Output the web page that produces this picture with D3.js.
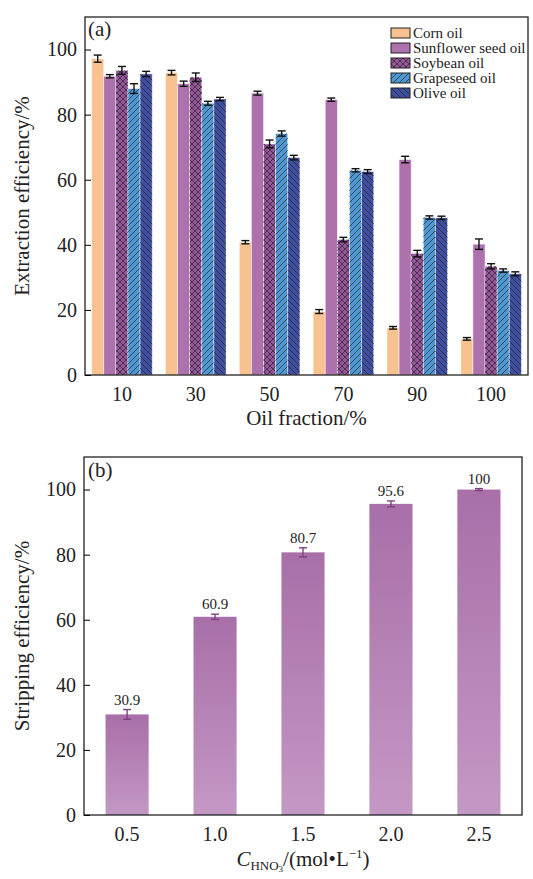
<!DOCTYPE html>
<html>
<head>
<meta charset="utf-8">
<script src="https://cdn.jsdelivr.net/npm/d3@7"></script>
<style>
  body { margin: 0; background: #fff; }
  text { font-family: "Liberation Serif", "Times New Roman", serif; }
</style>
</head>
<body>
<div id="chart"></div>
<script>
// panel (a) data
var fractions = ["10", "30", "50", "70", "90", "100"];
var oils = ["Corn oil", "Sunflower seed oil", "Soybean oil", "Grapeseed oil", "Olive oil"];
var cornVals = [97.2, 92.9, 40.8, 19.5, 14.5, 11.1];
var cornErr = [1.1, 0.7, 0.5, 0.6, 0.4, 0.4];
var sunflowerVals = [91.8, 89.5, 86.6, 84.6, 66.2, 40.2];
var sunflowerErr = [0.5, 0.8, 0.6, 0.5, 1.0, 1.6];
var soybeanVals = [93.6, 91.5, 71.0, 41.6, 37.3, 33.4];
var soybeanErr = [1.2, 1.3, 1.2, 0.7, 1.0, 0.8];
var grapeVals = [88.0, 83.5, 74.2, 62.9, 48.4, 32.1];
var grapeErr = [1.5, 0.6, 0.8, 0.5, 0.5, 0.5];
var oliveVals = [92.5, 84.8, 66.8, 62.5, 48.3, 31.1];
var oliveErr = [0.8, 0.5, 0.7, 0.6, 0.5, 0.6];

// panel (b) data
var hno3 = ["0.5", "1.0", "1.5", "2.0", "2.5"];
var stripVals = [30.9, 60.9, 80.7, 95.6, 100];
var stripErr = [1.5, 0.8, 1.4, 0.9, 0.3];

var yTicks = [0, 20, 40, 60, 80, 100];

var oilSeries = [
  { name: oils[0], vals: cornVals, err: cornErr, fill: "#f7c28f", pat: null },
  { name: oils[1], vals: sunflowerVals, err: sunflowerErr, fill: "#ad71ad", pat: null },
  { name: oils[2], vals: soybeanVals, err: soybeanErr, fill: "#95559a", pat: "patX" },
  { name: oils[3], vals: grapeVals, err: grapeErr, fill: "#4f97d0", pat: "patSlash" },
  { name: oils[4], vals: oliveVals, err: oliveErr, fill: "#3f4e9e", pat: "patBack" }
];

const W = 533, H = 879;
const svg = d3.select("#chart").append("svg")
  .attr("width", W)
  .attr("height", H);

// hatch patterns
const defs = svg.append("defs");
function hatch(id, paths) {
  var p = defs.append("pattern")
    .attr("id", id)
    .attr("patternUnits", "userSpaceOnUse")
    .attr("width", 6)
    .attr("height", 6);
  paths.forEach(function (d) {
    p.append("path").attr("d", d)
      .attr("stroke", "#222")
      .attr("stroke-opacity", 0.75)
      .attr("stroke-width", 0.9)
      .attr("fill", "none");
  });
}
hatch("patSlash", ["M0,6 L6,0", "M-1,1 L1,-1", "M5,7 L7,5"]);
hatch("patBack", ["M0,0 L6,6", "M-1,5 L1,7", "M5,-1 L7,1"]);
hatch("patX", ["M0,6 L6,0", "M-1,1 L1,-1", "M5,7 L7,5", "M0,0 L6,6", "M-1,5 L1,7", "M5,-1 L7,1"]);

var gradB = defs.append("linearGradient")
  .attr("id", "gradB")
  .attr("x1", 0).attr("y1", 0).attr("x2", 0).attr("y2", 1);
gradB.append("stop").attr("offset", "0%").attr("stop-color", "#a86fa8");
gradB.append("stop").attr("offset", "100%").attr("stop-color", "#c498c4");

// ---------- panel (a) ----------
const a = { left: 85, right: 528, top: 17, bottom: 375 };

const xA = d3.scaleBand().domain(fractions).range([a.left, a.right]).paddingInner(0.18).paddingOuter(0.09);
const xInner = d3.scaleBand().domain(oils).range([0, xA.bandwidth()]);
const yA = d3.scaleLinear().domain([0, 110]).range([a.bottom, a.top]);

const gA = svg.append("g").attr("id", "panelA");

oilSeries.forEach(function (s) {
  var g = gA.append("g").attr("class", "series");
  g.selectAll("rect.base")
    .data(s.vals)
    .enter()
    .append("rect")
    .attr("class", "base")
    .attr("x", (d, i) => xA(fractions[i]) + xInner(s.name))
    .attr("y", d => yA(d))
    .attr("width", xInner.bandwidth())
    .attr("height", d => yA(0) - yA(d))
    .attr("fill", s.fill)
    .attr("stroke", "#ffffff")
    .attr("stroke-opacity", 0.6)
    .attr("stroke-width", 0.8);
  if (s.pat) {
    g.selectAll("rect.hatch")
      .data(s.vals)
      .enter()
      .append("rect")
      .attr("class", "hatch")
      .attr("x", (d, i) => xA(fractions[i]) + xInner(s.name))
      .attr("y", d => yA(d))
      .attr("width", xInner.bandwidth())
      .attr("height", d => yA(0) - yA(d))
      .attr("fill", "url(#" + s.pat + ")");
  }
  // error bars
  var eb = g.selectAll("g.err")
    .data(s.vals)
    .enter()
    .append("g")
    .attr("class", "err")
    .attr("stroke", "#111")
    .attr("stroke-width", 1.4);
  var cx = (d, i) => xA(fractions[i]) + xInner(s.name) + xInner.bandwidth() / 2;
  eb.append("line")
    .attr("x1", cx).attr("x2", cx)
    .attr("y1", (d, i) => yA(d - s.err[i]))
    .attr("y2", (d, i) => yA(d + s.err[i]));
  eb.append("line")
    .attr("x1", (d, i) => cx(d, i) - 4).attr("x2", (d, i) => cx(d, i) + 4)
    .attr("y1", (d, i) => yA(d + s.err[i]))
    .attr("y2", (d, i) => yA(d + s.err[i]));
  eb.append("line")
    .attr("x1", (d, i) => cx(d, i) - 4).attr("x2", (d, i) => cx(d, i) + 4)
    .attr("y1", (d, i) => yA(d - s.err[i]))
    .attr("y2", (d, i) => yA(d - s.err[i]));
});

// frame
gA.append("rect")
  .attr("x", a.left).attr("y", a.top)
  .attr("width", a.right - a.left).attr("height", a.bottom - a.top)
  .attr("fill", "none").attr("stroke", "#222").attr("stroke-width", 1.3);

gA.append("g")
  .attr("transform", "translate(" + a.left + ",0)")
  .call(d3.axisRight(yA).tickValues(yTicks).tickSize(6).tickFormat(""))
  .call(g => g.select(".domain").remove());
gA.append("g")
  .attr("transform", "translate(" + a.left + ",0)")
  .call(d3.axisLeft(yA).tickValues(yTicks).tickSize(0).tickPadding(8))
  .call(g => g.select(".domain").remove())
  .selectAll("text")
  .attr("font-size", "20px")
  .attr("fill", "#222")
  .style("font-family", "'Liberation Serif', serif");

gA.append("g")
  .attr("transform", "translate(0," + a.bottom + ")")
  .call(d3.axisBottom(xA).tickSize(0).tickPadding(12))
  .call(g => g.select(".domain").remove())
  .selectAll("text")
  .attr("font-size", "20px")
  .attr("fill", "#222")
  .style("font-family", "'Liberation Serif', serif");

gA.append("text")
  .attr("x", (a.left + a.right) / 2)
  .attr("y", 425)
  .attr("font-size", "21px")
  .attr("fill", "#222")
  .style("text-anchor", "middle")
  .text("Oil fraction/%");

gA.append("text")
  .attr("transform", "rotate(-90)")
  .attr("x", -(a.top + a.bottom) / 2)
  .attr("y", 29)
  .attr("font-size", "21px")
  .attr("fill", "#222")
  .style("text-anchor", "middle")
  .text("Extraction efficiency/%");

gA.append("text")
  .attr("x", 88).attr("y", 36)
  .attr("font-size", "21px")
  .attr("fill", "#222")
  .text("(a)");

// legend
var leg = gA.append("g").attr("transform", "translate(391,28)");
oilSeries.forEach(function (s, i) {
  var row = leg.append("g").attr("transform", "translate(0," + (i * 15) + ")");
  row.append("rect")
    .attr("x", 0).attr("y", 0).attr("width", 19).attr("height", 10)
    .attr("fill", s.fill);
  if (s.pat) {
    row.append("rect")
      .attr("x", 0).attr("y", 0).attr("width", 19).attr("height", 10)
      .attr("fill", "url(#" + s.pat + ")");
  }
  row.append("rect")
    .attr("x", 0).attr("y", 0).attr("width", 19).attr("height", 10)
    .attr("fill", "none").attr("stroke", "#222").attr("stroke-width", 1);
  row.append("text")
    .attr("x", 22).attr("y", 9.5)
    .attr("font-size", "15px")
    .attr("fill", "#222")
    .text(s.name);
});

// ---------- panel (b) ----------
const b = { left: 84, right: 522, top: 457, bottom: 815 };
const xB = d3.scaleBand().domain(hno3).range([b.left, b.right]).paddingInner(0.51).paddingOuter(0.245);
const yB = d3.scaleLinear().domain([0, 110]).range([b.bottom, b.top]);

const gB = svg.append("g").attr("id", "panelB");

gB.selectAll("rect.bar")
  .data(stripVals)
  .enter()
  .append("rect")
  .attr("class", "bar")
  .attr("x", (d, i) => xB(hno3[i]))
  .attr("y", d => yB(d))
  .attr("width", xB.bandwidth())
  .attr("height", d => yB(0) - yB(d))
  .attr("fill", "url(#gradB)");

var ebB = gB.selectAll("g.err")
  .data(stripVals)
  .enter()
  .append("g")
  .attr("class", "err")
  .attr("stroke", "#7d3f80")
  .attr("stroke-width", 1.4);
var cxB = (d, i) => xB(hno3[i]) + xB.bandwidth() / 2;
ebB.append("line")
  .attr("x1", cxB).attr("x2", cxB)
  .attr("y1", (d, i) => yB(d - stripErr[i]))
  .attr("y2", (d, i) => yB(d + stripErr[i]));
ebB.append("line")
  .attr("x1", (d, i) => cxB(d, i) - 4).attr("x2", (d, i) => cxB(d, i) + 4)
  .attr("y1", (d, i) => yB(d + stripErr[i]))
  .attr("y2", (d, i) => yB(d + stripErr[i]));
ebB.append("line")
  .attr("x1", (d, i) => cxB(d, i) - 4).attr("x2", (d, i) => cxB(d, i) + 4)
  .attr("y1", (d, i) => yB(d - stripErr[i]))
  .attr("y2", (d, i) => yB(d - stripErr[i]));

gB.selectAll("text.val")
  .data(stripVals)
  .enter()
  .append("text")
  .attr("class", "val")
  .attr("x", cxB)
  .attr("y", (d, i) => yB(d + stripErr[i]) - 5)
  .attr("font-size", "15px")
  .attr("fill", "#222")
  .style("text-anchor", "middle")
  .text(d => d);

gB.append("rect")
  .attr("x", b.left).attr("y", b.top)
  .attr("width", b.right - b.left).attr("height", b.bottom - b.top)
  .attr("fill", "none").attr("stroke", "#222").attr("stroke-width", 1.3);

gB.append("g")
  .attr("transform", "translate(" + b.left + ",0)")
  .call(d3.axisRight(yB).tickValues(yTicks).tickSize(6).tickFormat(""))
  .call(g => g.select(".domain").remove());
gB.append("g")
  .attr("transform", "translate(" + b.left + ",0)")
  .call(d3.axisLeft(yB).tickValues(yTicks).tickSize(0).tickPadding(8))
  .call(g => g.select(".domain").remove())
  .selectAll("text")
  .attr("font-size", "20px")
  .attr("fill", "#222")
  .style("font-family", "'Liberation Serif', serif");

gB.append("g")
  .attr("transform", "translate(0," + b.bottom + ")")
  .call(d3.axisBottom(xB).tickSize(0).tickPadding(12))
  .call(g => g.select(".domain").remove())
  .selectAll("text")
  .attr("font-size", "20px")
  .attr("fill", "#222")
  .style("font-family", "'Liberation Serif', serif");

gB.append("text")
  .attr("transform", "rotate(-90)")
  .attr("x", -(b.top + b.bottom) / 2)
  .attr("y", 29)
  .attr("font-size", "21px")
  .attr("fill", "#222")
  .style("text-anchor", "middle")
  .text("Stripping efficiency/%");

gB.append("text")
  .attr("x", 88).attr("y", 477)
  .attr("font-size", "21px")
  .attr("fill", "#222")
  .text("(b)");

// x label with subscripts
var xl = gB.append("text")
  .attr("x", (b.left + b.right) / 2)
  .attr("y", 866)
  .attr("font-size", "21px")
  .attr("fill", "#222")
  .style("text-anchor", "middle");
xl.append("tspan").style("font-style", "italic").text("C");
xl.append("tspan").attr("font-size", "13px").attr("dy", 4).text("HNO");
xl.append("tspan").attr("font-size", "9px").attr("dy", 2).text("3");
xl.append("tspan").attr("dy", -6).text("/(mol\u2022L");
xl.append("tspan").attr("font-size", "13px").attr("dy", -8).text("\u22121");
xl.append("tspan").attr("dy", 8).text(")");
</script>
</body>
</html>
